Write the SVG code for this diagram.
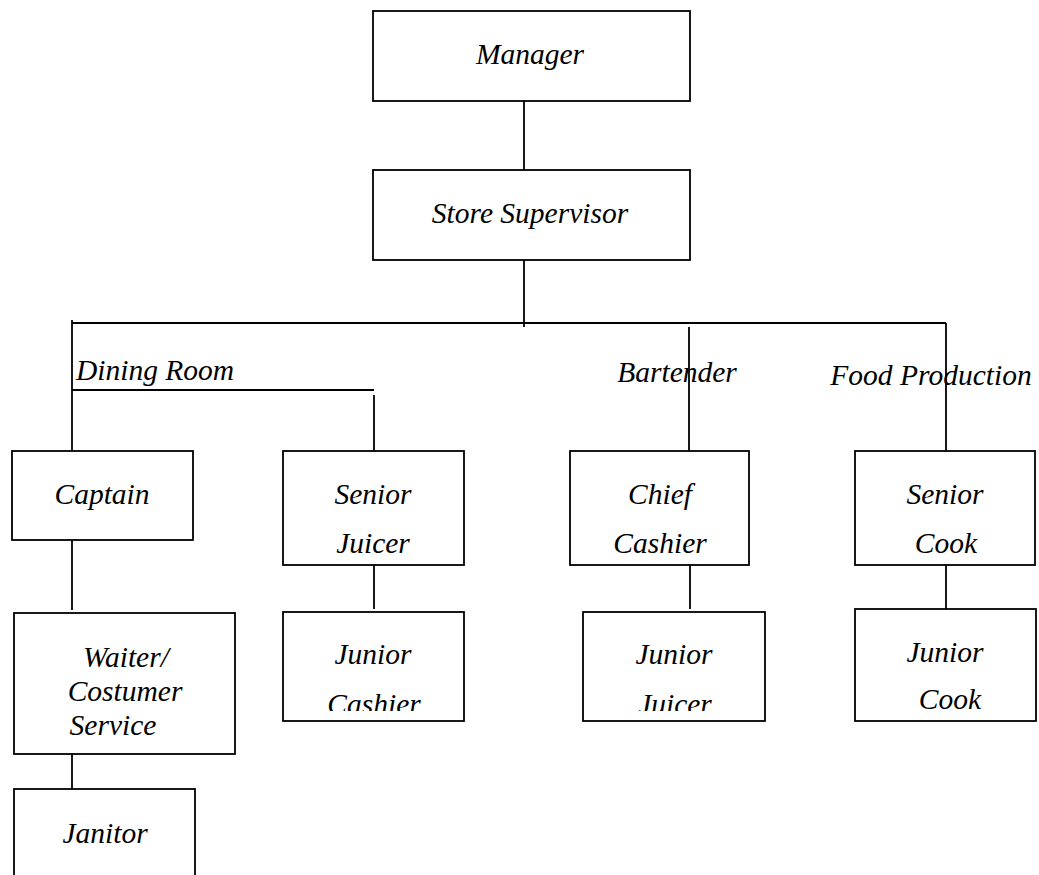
<svg xmlns="http://www.w3.org/2000/svg" width="1039" height="875" viewBox="0 0 1039 875">
<style>
.box{fill:#fff;stroke:#000;stroke-width:1.8}
.ln{stroke:#000;stroke-width:1.8;fill:none}
text{font-family:"Liberation Serif","Times New Roman",serif;font-style:italic;font-size:29.5px;fill:#000}
.m{text-anchor:middle}
</style>
<defs>
<clipPath id="cjc"><rect x="283" y="612" width="181" height="99"/></clipPath>
<clipPath id="cjj"><rect x="583" y="612" width="182" height="99"/></clipPath>
</defs>
<rect width="1039" height="875" fill="#fff"/>
<g id="connectors">
<line class="ln" x1="524" y1="101" x2="524" y2="170"/>
<line class="ln" x1="524" y1="260" x2="524" y2="327"/>
<line class="ln" x1="72" y1="323" x2="946" y2="323"/>
<line class="ln" x1="72" y1="320" x2="72" y2="451"/>
<line class="ln" x1="72" y1="390" x2="374" y2="390"/>
<line class="ln" x1="374" y1="395" x2="374" y2="451"/>
<line class="ln" x1="689" y1="327" x2="689" y2="451"/>
<line class="ln" x1="946" y1="323" x2="946" y2="451"/>
<line class="ln" x1="72" y1="540" x2="72" y2="610"/>
<line class="ln" x1="72" y1="754" x2="72" y2="789"/>
<line class="ln" x1="374" y1="565" x2="374" y2="609"/>
<line class="ln" x1="690" y1="565" x2="690" y2="609"/>
<line class="ln" x1="946" y1="565" x2="946" y2="609"/>
</g>
<g id="label-dining"><text x="76" y="380">Dining Room</text></g>
<g id="label-bartender"><text class="m" x="677" y="382">Bartender</text></g>
<g id="label-food"><text class="m" x="931" y="385">Food Production</text></g>
<g id="manager"><rect class="box" x="373" y="11" width="317" height="90"/><text class="m" x="530" y="64">Manager</text></g>
<g id="store-supervisor"><rect class="box" x="373" y="170" width="317" height="90"/><text class="m" x="530" y="223">Store Supervisor</text></g>
<g id="captain"><rect class="box" x="12" y="451" width="181" height="89"/><text class="m" x="102" y="504">Captain</text></g>
<g id="senior-juicer"><rect class="box" x="283" y="451" width="181" height="114"/><text class="m" x="373" y="504">Senior</text><text class="m" x="373" y="553">Juicer</text></g>
<g id="chief-cashier"><rect class="box" x="570" y="451" width="179" height="114"/><text class="m" x="660" y="504">Chief</text><text class="m" x="660" y="553">Cashier</text></g>
<g id="senior-cook"><rect class="box" x="855" y="451" width="180" height="114"/><text class="m" x="945" y="504">Senior</text><text class="m" x="946" y="553">Cook</text></g>
<g id="waiter"><rect class="box" x="14" y="613" width="221" height="141"/><text class="m" x="126" y="667">Waiter/</text><text class="m" x="125" y="701">Costumer</text><text class="m" x="113" y="735">Service</text></g>
<g id="janitor"><rect class="box" x="14" y="789" width="181" height="100"/><text class="m" x="105" y="843">Janitor</text></g>
<g id="junior-cashier"><rect class="box" x="283" y="612" width="181" height="109"/><text class="m" x="373" y="664">Junior</text><text class="m" x="374" y="714" clip-path="url(#cjc)">Cashier</text></g>
<g id="junior-juicer"><rect class="box" x="583" y="612" width="182" height="109"/><text class="m" x="674" y="664">Junior</text><text class="m" x="675" y="714" clip-path="url(#cjj)">Juicer</text></g>
<g id="junior-cook"><rect class="box" x="855" y="609" width="181" height="112"/><text class="m" x="945" y="662">Junior</text><text class="m" x="950" y="709">Cook</text></g>
</svg>
